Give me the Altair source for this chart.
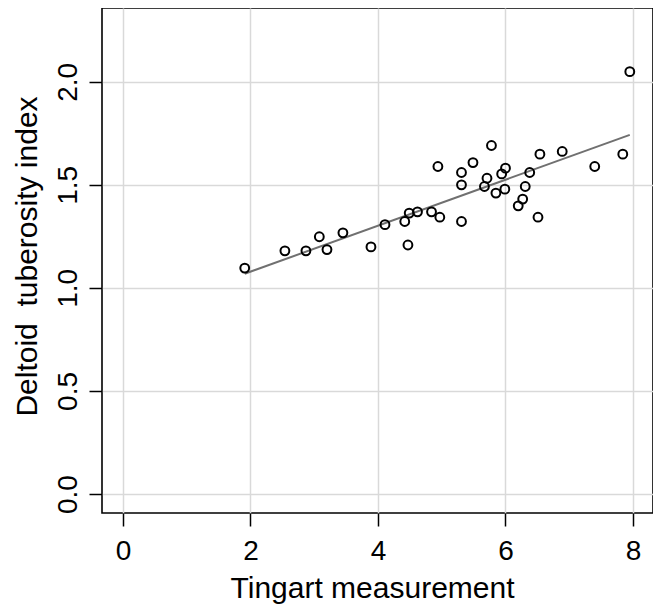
import altair as alt
import pandas as pd

tingart = [1.91, 2.54, 2.87, 3.08, 3.20, 3.45, 3.89, 4.11, 4.42, 4.47, 4.49, 4.62,
           4.84, 4.97, 4.94, 5.31, 5.31, 5.31, 5.49, 5.78, 5.71, 5.67, 5.85, 5.94,
           6.00, 5.99, 6.31, 6.38, 6.27, 6.20, 6.51, 6.54, 6.89, 7.40, 7.84, 7.95]
deltoid = [1.096, 1.180, 1.180, 1.248, 1.186, 1.267, 1.199, 1.307, 1.322, 1.208,
           1.363, 1.369, 1.369, 1.343, 1.589, 1.560, 1.500, 1.322, 1.608, 1.691,
           1.532, 1.492, 1.460, 1.553, 1.581, 1.479, 1.492, 1.560, 1.431, 1.398,
           1.343, 1.649, 1.662, 1.589, 1.649, 2.049]

x_ticks = [0, 2, 4, 6, 8]
y_ticks = [0.0, 0.5, 1.0, 1.5, 2.0]

df = pd.DataFrame({"x": tingart, "y": deltoid})

FONT = "Liberation Sans"

x_scale = alt.Scale(domain=[-0.329, 8.314], nice=False, zero=False)
y_scale = alt.Scale(domain=[-0.0921, 2.358], nice=False, zero=False)

x_axis = alt.Axis(
    values=x_ticks, format="d", grid=True, domain=False,
    tickSize=13, tickWidth=1.5, tickColor="black",
    labelFontSize=28, labelFont=FONT, labelColor="black",
    labelBaseline="alphabetic", labelPadding=33, labelFlush=False,
    labelOverlap=False,
    title="Tingart measurement", titleFontSize=30, titleFont=FONT,
    titleFontWeight="normal", titleColor="black",
    titleX=270, titleY=84, titleBaseline="alphabetic", titleAlign="center",
)
y_axis = alt.Axis(
    values=y_ticks, format=".1f", grid=True, domain=False,
    tickSize=13, tickWidth=1.5, tickColor="black",
    labelFontSize=28, labelFont=FONT, labelColor="black",
    labelAngle=270, labelAlign="center", labelBaseline="alphabetic",
    labelPadding=13, labelFlush=False, labelOverlap=False,
    title="Deltoid\u00a0 tuberosity index", titleFontSize=30, titleFont=FONT,
    titleFontWeight="normal", titleColor="black", titleAngle=270,
    titleX=-66, titleY=248, titleBaseline="alphabetic", titleAlign="center",
)

base = alt.Chart(df)

line = base.transform_regression("x", "y").mark_line(
    color="#707070", strokeWidth=2
).encode(
    x=alt.X("x:Q", scale=x_scale, axis=x_axis),
    y=alt.Y("y:Q", scale=y_scale, axis=y_axis),
)

points = base.mark_point(
    shape="circle", filled=False, color="black", size=78, strokeWidth=2, opacity=1
).encode(
    x=alt.X("x:Q", scale=x_scale),
    y=alt.Y("y:Q", scale=y_scale),
)

chart = (
    alt.layer(line, points)
    .properties(
        width=551, height=505,
        autosize=alt.AutoSizeParams(type="none"),
        padding={"left": 94, "top": 0, "right": 0, "bottom": 92},
        background="white",
    )
    .configure_view(stroke="black", strokeWidth=1.6)
    .configure_axis(gridColor="#d9d9d9", gridWidth=1.5)
)

chart.save("out.html", embed_options={"renderer": "svg", "actions": False})
